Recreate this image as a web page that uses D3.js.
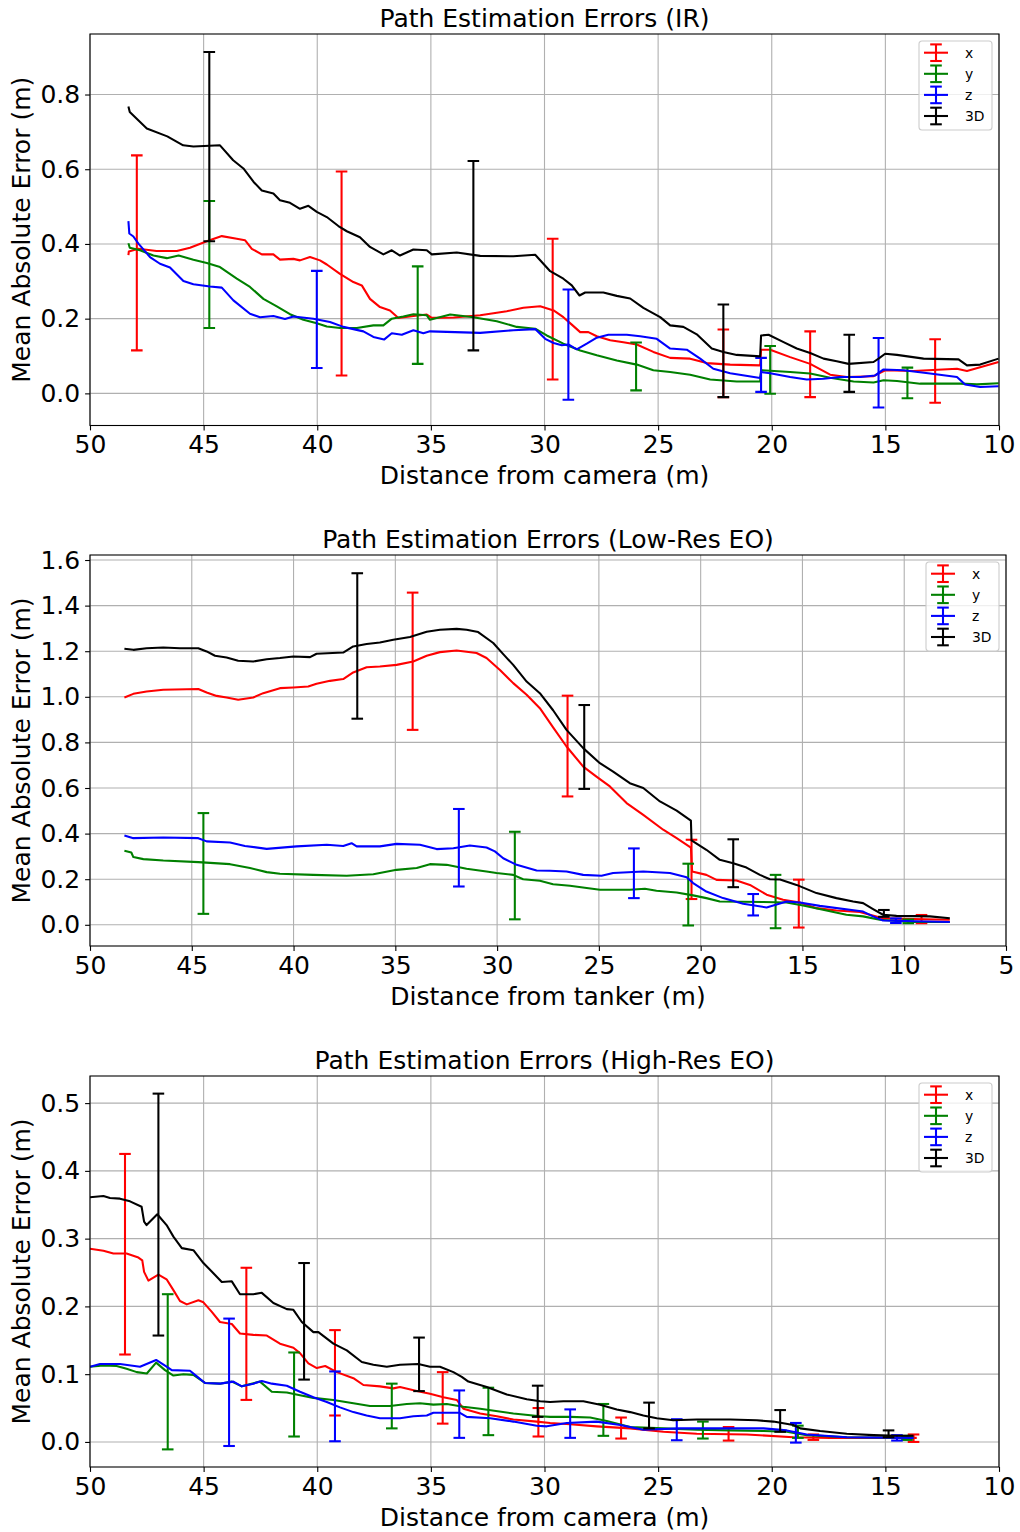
<!DOCTYPE html>
<html>
<head>
<meta charset="utf-8">
<script src="https://cdn.jsdelivr.net/npm/d3@7"></script>
<style>
  body { margin: 0; background: #fff; }
  text { font-family: "DejaVu Sans", sans-serif; }
</style>
</head>
<body>
<svg id="chart" width="1020" height="1532"></svg>
<script>
// ---- data: [distance (m), mean abs error (m)] ----
const seriesNames = ['x', 'y', 'z', '3D'];
const seriesColors = ['#ff0000', '#008000', '#0000ff', '#000000'];

// IR
const irX = [[48.31,0.370],[48.29,0.380],[47.87,0.387],[47.07,0.381],[46.18,0.381],[45.6,0.390],[44.86,0.407],[44.2,0.421],[43.54,0.414],[43.18,0.410],[42.88,0.387],[42.44,0.372],[41.93,0.372],[41.64,0.358],[41.05,0.360],[40.76,0.356],[40.32,0.365],[39.88,0.356],[39.58,0.345],[39.0,0.320],[38.41,0.298],[38.04,0.289],[37.68,0.253],[37.24,0.231],[36.8,0.222],[36.43,0.202],[35.77,0.207],[35.18,0.211],[34.96,0.202],[34.0,0.203],[32.83,0.209],[31.66,0.220],[30.93,0.229],[30.19,0.233],[29.6,0.222],[29.17,0.204],[28.8,0.184],[28.43,0.164],[28.07,0.164],[27.7,0.153],[27.11,0.142],[26.53,0.137],[25.94,0.131],[25.21,0.111],[24.47,0.095],[23.59,0.093],[22.86,0.081],[21.83,0.077],[20.51,0.075],[20.47,0.117],[20.07,0.117],[19.19,0.097],[18.31,0.079],[17.43,0.050],[16.7,0.044],[15.52,0.046],[15.01,0.062],[13.76,0.060],[11.85,0.066],[11.41,0.060],[10.02,0.084]];
const irY = [[48.31,0.402],[48.25,0.390],[47.8,0.383],[47.21,0.369],[46.62,0.362],[46.1,0.369],[45.45,0.358],[44.86,0.349],[44.28,0.338],[43.54,0.307],[42.96,0.285],[42.37,0.253],[41.78,0.233],[41.2,0.212],[40.61,0.197],[40.02,0.188],[39.58,0.179],[39.0,0.175],[38.26,0.175],[37.53,0.182],[37.09,0.182],[36.72,0.200],[36.21,0.206],[35.77,0.212],[35.18,0.209],[35.04,0.197],[34.15,0.211],[33.13,0.204],[32.1,0.193],[31.22,0.178],[30.41,0.173],[29.9,0.155],[29.17,0.133],[28.43,0.115],[27.7,0.102],[26.82,0.088],[25.94,0.077],[25.21,0.062],[24.47,0.057],[23.59,0.050],[22.71,0.037],[21.54,0.032],[20.51,0.032],[20.47,0.062],[19.19,0.057],[18.31,0.053],[17.43,0.042],[16.4,0.032],[15.52,0.029],[15.08,0.035],[14.49,0.033],[13.47,0.026],[11.7,0.026],[10.97,0.024],[10.02,0.027]];
const irZ = [[48.31,0.461],[48.27,0.428],[48.09,0.420],[47.87,0.401],[47.36,0.365],[46.92,0.347],[46.48,0.337],[45.89,0.301],[45.45,0.292],[44.72,0.286],[44.2,0.283],[43.69,0.249],[42.96,0.213],[42.52,0.204],[41.93,0.207],[41.42,0.199],[41.05,0.206],[40.17,0.200],[39.44,0.191],[38.85,0.178],[37.97,0.166],[37.53,0.151],[37.06,0.144],[36.72,0.161],[36.28,0.157],[35.77,0.169],[35.33,0.161],[35.04,0.166],[32.83,0.162],[31.37,0.169],[30.41,0.172],[29.97,0.146],[29.6,0.135],[29.24,0.129],[28.95,0.131],[28.58,0.118],[28.14,0.133],[27.7,0.149],[27.19,0.157],[26.38,0.157],[25.79,0.153],[25.06,0.146],[24.47,0.120],[23.74,0.117],[23.15,0.093],[22.57,0.066],[21.83,0.054],[20.51,0.041],[20.47,0.057],[20.07,0.054],[19.19,0.044],[18.46,0.037],[17.72,0.039],[16.99,0.044],[16.1,0.044],[15.45,0.048],[15.08,0.064],[14.2,0.062],[13.03,0.053],[11.85,0.044],[11.49,0.024],[10.83,0.017],[10.02,0.019]];
const ir3D = [[48.31,0.768],[48.25,0.753],[47.5,0.709],[46.6,0.688],[45.9,0.664],[45.45,0.661],[44.28,0.664],[43.7,0.624],[43.25,0.602],[42.8,0.566],[42.44,0.543],[41.93,0.535],[41.64,0.517],[41.2,0.510],[40.76,0.494],[40.39,0.502],[40.02,0.486],[39.58,0.472],[39.07,0.448],[38.7,0.434],[38.12,0.418],[37.68,0.392],[37.09,0.372],[36.72,0.383],[36.36,0.369],[35.77,0.385],[35.18,0.383],[34.96,0.372],[33.86,0.377],[32.83,0.368],[31.37,0.367],[30.41,0.371],[30.05,0.347],[29.75,0.327],[29.17,0.307],[28.8,0.289],[28.46,0.262],[28.21,0.270],[27.41,0.270],[26.82,0.261],[26.23,0.254],[25.65,0.229],[24.91,0.204],[24.47,0.182],[23.89,0.178],[23.3,0.158],[22.64,0.120],[22.13,0.111],[21.54,0.103],[20.51,0.099],[20.47,0.155],[20.14,0.157],[19.48,0.137],[18.9,0.120],[18.31,0.108],[17.72,0.093],[17.14,0.086],[16.62,0.079],[15.52,0.084],[15.3,0.093],[15.01,0.106],[14.49,0.103],[13.32,0.093],[11.78,0.091],[11.41,0.075],[10.83,0.077],[10.02,0.093]];

// error bars: [distance, mean, half-width]
const irXErr = [[47.94,0.376,0.261],[38.93,0.321,0.273],[29.64,0.2255,0.1885],[22.13,0.0805,0.0905],[18.31,0.078,0.088],[12.81,0.06,0.085]];
const irYErr = [[44.75,0.345,0.17],[35.58,0.2095,0.1305],[25.97,0.072,0.064],[20.07,0.063,0.064],[14.03,0.028,0.041]];
const irZErr = [[40.02,0.198,0.13],[28.95,0.1305,0.1475],[20.47,0.0495,0.0455],[15.3,0.055,0.093]];
const ir3DErr = [[44.75,0.6605,0.2535],[33.13,0.3685,0.2535],[22.13,0.114,0.124],[16.59,0.0805,0.0765]];

// Low-Res EO
const loX = [[48.31,0.997],[47.87,1.013],[47.22,1.023],[46.4,1.031],[44.68,1.034],[44.27,1.019],[43.78,1.004],[43.29,0.997],[42.72,0.987],[41.98,0.997],[41.49,1.016],[40.67,1.038],[40.01,1.041],[39.28,1.045],[38.87,1.057],[38.21,1.070],[37.56,1.078],[37.07,1.107],[36.41,1.130],[35.76,1.133],[34.94,1.140],[34.12,1.155],[33.46,1.180],[32.81,1.196],[31.99,1.203],[31.01,1.192],[30.52,1.170],[29.86,1.118],[29.21,1.060],[28.55,1.009],[27.9,0.950],[27.25,0.866],[26.59,0.782],[25.77,0.694],[25.12,0.650],[24.46,0.607],[23.64,0.534],[22.82,0.482],[21.84,0.417],[21.18,0.380],[20.48,0.339],[20.42,0.234],[19.72,0.219],[19.22,0.197],[18.24,0.194],[17.58,0.175],[16.76,0.132],[15.95,0.110],[15.13,0.098],[14.31,0.073],[13.33,0.063],[12.18,0.056],[11.69,0.044],[11.04,0.029],[9.56,0.025],[7.76,0.022]];
const loY = [[48.31,0.325],[47.97,0.317],[47.87,0.297],[47.38,0.288],[46.4,0.282],[44.68,0.275],[43.12,0.266],[42.14,0.249],[41.32,0.231],[40.67,0.224],[39.03,0.219],[37.39,0.215],[36.08,0.222],[34.94,0.241],[33.95,0.249],[33.3,0.266],[32.48,0.263],[31.5,0.246],[30.52,0.234],[30.03,0.227],[29.21,0.219],[28.72,0.200],[27.9,0.193],[27.25,0.178],[26.42,0.171],[25.6,0.161],[24.95,0.154],[23.48,0.154],[22.74,0.158],[22.17,0.149],[21.18,0.142],[20.37,0.129],[19.72,0.117],[19.06,0.102],[16.93,0.100],[15.78,0.098],[14.97,0.085],[13.99,0.066],[12.84,0.044],[12.02,0.037],[11.2,0.022],[9.56,0.012],[7.76,0.012]];
const loZ = [[48.31,0.392],[47.87,0.380],[46.4,0.383],[44.68,0.380],[44.27,0.366],[43.12,0.361],[42.39,0.346],[41.32,0.333],[39.85,0.344],[38.37,0.351],[37.56,0.346],[37.15,0.358],[36.9,0.344],[35.76,0.344],[34.94,0.355],[33.79,0.351],[32.97,0.332],[32.15,0.336],[31.34,0.348],[30.52,0.339],[30.11,0.322],[29.7,0.292],[29.04,0.263],[28.06,0.238],[27.41,0.237],[26.59,0.234],[25.77,0.219],[24.87,0.215],[24.3,0.227],[22.82,0.234],[21.51,0.227],[20.69,0.209],[20.37,0.183],[19.72,0.146],[18.9,0.117],[17.91,0.092],[16.76,0.076],[15.78,0.102],[15.13,0.098],[14.15,0.083],[12.02,0.058],[11.53,0.037],[11.04,0.019],[7.76,0.012]];
const lo3D = [[48.31,1.211],[47.87,1.206],[47.22,1.213],[46.4,1.216],[45.58,1.213],[44.68,1.213],[44.27,1.199],[43.86,1.180],[43.29,1.172],[42.72,1.158],[41.98,1.155],[41.32,1.165],[40.67,1.170],[40.01,1.177],[39.19,1.174],[38.87,1.189],[37.56,1.194],[37.07,1.221],[36.41,1.232],[35.76,1.238],[35.1,1.250],[34.28,1.262],[33.46,1.285],[32.81,1.294],[31.99,1.298],[31.5,1.294],[30.93,1.284],[30.19,1.236],[29.7,1.187],[29.21,1.140],[28.55,1.067],[27.9,1.016],[27.25,0.941],[26.59,0.855],[25.77,0.775],[24.95,0.709],[24.3,0.672],[23.48,0.621],[22.82,0.600],[22.0,0.541],[21.18,0.501],[20.48,0.457],[20.45,0.370],[19.72,0.329],[19.06,0.285],[18.4,0.270],[17.75,0.251],[17.09,0.219],[16.6,0.200],[16.1,0.199],[15.29,0.175],[14.31,0.139],[13.33,0.117],[12.51,0.102],[12.02,0.095],[11.53,0.069],[11.04,0.044],[10.38,0.039],[8.74,0.037],[7.76,0.029]];

const loXErr = [[34.15,1.156,0.301],[26.54,0.784,0.221],[20.45,0.243,0.13],[15.18,0.093,0.105],[9.15,0.025,0.018]];
const loYErr = [[44.43,0.269,0.221],[29.13,0.216,0.192],[20.61,0.1325,0.1355],[16.32,0.102,0.117],[9.8,0.015,0.008]];
const loZErr = [[31.88,0.338,0.17],[23.28,0.226,0.109],[17.42,0.088,0.047],[10.41,0.018,0.01]];
const lo3DErr = [[36.87,1.223,0.319],[25.72,0.78,0.184],[18.4,0.27,0.105],[11.0,0.05,0.015]];

// High-Res EO
const hiX = [[50,0.285],[49.41,0.282],[48.97,0.278],[48.39,0.278],[47.87,0.272],[47.7,0.268],[47.62,0.251],[47.43,0.238],[46.99,0.247],[46.63,0.240],[46.33,0.224],[46.04,0.208],[45.74,0.203],[45.23,0.209],[45.01,0.206],[44.64,0.192],[44.28,0.177],[43.76,0.174],[43.4,0.160],[42.81,0.158],[42.22,0.157],[41.64,0.145],[41.05,0.139],[40.76,0.131],[40.39,0.116],[40.02,0.109],[39.65,0.112],[39.14,0.103],[38.41,0.094],[37.97,0.084],[37.24,0.082],[36.65,0.079],[36.36,0.081],[35.62,0.075],[35.04,0.071],[34.45,0.066],[33.86,0.062],[33.57,0.049],[32.83,0.042],[32.1,0.038],[31.37,0.033],[30.34,0.030],[29.75,0.028],[28.87,0.026],[27.7,0.023],[26.23,0.020],[24.77,0.015],[23.3,0.012],[21.1,0.011],[19.05,0.007],[17.43,0.006],[13.62,0.006]];
const hiY = [[50,0.111],[49.41,0.113],[48.83,0.112],[48.39,0.108],[47.94,0.103],[47.5,0.101],[47.09,0.117],[46.7,0.106],[46.33,0.098],[45.89,0.100],[45.45,0.099],[44.94,0.087],[44.28,0.086],[43.76,0.089],[43.32,0.082],[42.52,0.089],[42.0,0.074],[41.34,0.073],[40.76,0.069],[40.17,0.065],[39.29,0.062],[38.41,0.057],[37.68,0.053],[36.8,0.053],[36.06,0.056],[35.48,0.057],[34.89,0.055],[34.3,0.056],[33.57,0.052],[32.83,0.049],[31.37,0.042],[30.19,0.038],[29.75,0.037],[28.87,0.037],[27.99,0.036],[27.26,0.031],[26.23,0.022],[24.77,0.020],[23.3,0.018],[21.83,0.017],[20.36,0.016],[19.34,0.015],[18.46,0.010],[16.7,0.007],[13.76,0.006]];
const hiZ = [[50,0.111],[49.56,0.115],[48.68,0.115],[47.8,0.111],[47.09,0.121],[46.63,0.111],[46.4,0.106],[45.6,0.105],[45.38,0.099],[44.94,0.087],[44.28,0.086],[43.69,0.089],[43.32,0.082],[42.81,0.086],[42.44,0.090],[42.0,0.086],[41.34,0.083],[40.76,0.074],[40.17,0.066],[39.58,0.059],[39.0,0.051],[38.41,0.044],[37.83,0.039],[37.24,0.035],[36.36,0.035],[35.77,0.038],[35.18,0.039],[34.89,0.043],[33.72,0.043],[33.42,0.037],[32.39,0.035],[31.37,0.030],[30.34,0.024],[29.9,0.023],[29.02,0.028],[27.7,0.030],[26.67,0.025],[25.65,0.018],[24.04,0.020],[21.83,0.020],[20.36,0.020],[19.34,0.017],[18.46,0.011],[16.7,0.007],[13.76,0.006]];
const hi3D = [[50,0.361],[49.41,0.363],[49.12,0.360],[48.68,0.359],[48.24,0.355],[47.73,0.347],[47.62,0.325],[47.51,0.320],[47.04,0.336],[46.63,0.320],[46.33,0.303],[45.96,0.286],[45.45,0.283],[45.01,0.264],[44.57,0.249],[44.2,0.236],[43.76,0.237],[43.4,0.218],[42.81,0.218],[42.44,0.220],[41.93,0.205],[41.34,0.196],[41.05,0.195],[40.68,0.177],[40.17,0.162],[39.95,0.162],[39.29,0.145],[38.7,0.135],[38.04,0.118],[37.53,0.114],[36.94,0.111],[36.36,0.114],[35.55,0.115],[35.04,0.111],[34.6,0.111],[34.01,0.103],[33.64,0.096],[33.35,0.089],[32.54,0.081],[31.66,0.070],[30.78,0.063],[30.19,0.060],[29.75,0.059],[29.17,0.060],[28.29,0.060],[27.55,0.055],[26.82,0.048],[26.23,0.044],[25.65,0.039],[25.06,0.035],[24.33,0.032],[23.3,0.033],[21.83,0.033],[20.66,0.032],[19.93,0.030],[19.05,0.025],[18.75,0.020],[17.87,0.016],[16.7,0.012],[15.52,0.010],[14.49,0.009],[13.76,0.009]];

const hiXErr = [[48.46,0.277,0.148],[43.12,0.1595,0.0975],[39.22,0.102,0.063],[34.48,0.065,0.038],[30.27,0.029,0.021],[26.63,0.0205,0.0155],[21.9,0.012,0.01],[18.17,0.007,0.004],[13.76,0.0055,0.0055]];
const hiYErr = [[46.58,0.1035,0.1145],[41.02,0.07,0.062],[36.72,0.053,0.033],[32.47,0.045,0.035],[27.41,0.0325,0.0235],[23.03,0.0175,0.0125],[18.85,0.015,0.009],[14.05,0.006,0.003]];
const hiZErr = [[43.88,0.088,0.094],[39.22,0.0525,0.0515],[33.75,0.041,0.035],[28.87,0.027,0.021],[24.18,0.018,0.0155],[18.94,0.0135,0.0145],[14.49,0.006,0.004]];
const hi3DErr = [[46.99,0.3355,0.1785],[40.58,0.178,0.086],[35.52,0.1145,0.0395],[30.3,0.06,0.023],[25.4,0.039,0.019],[19.63,0.031,0.016],[14.86,0.012,0.005]];

// ticks
const irXTicks = [50, 45, 40, 35, 30, 25, 20, 15, 10];
const irYTicks = [0.0, 0.2, 0.4, 0.6, 0.8];
const loXTicks = [50, 45, 40, 35, 30, 25, 20, 15, 10, 5];
const loYTicks = [0.0, 0.2, 0.4, 0.6, 0.8, 1.0, 1.2, 1.4, 1.6];
const hiXTicks = [50, 45, 40, 35, 30, 25, 20, 15, 10];
const hiYTicks = [0.0, 0.1, 0.2, 0.3, 0.4, 0.5];

const titles = ['Path Estimation Errors (IR)', 'Path Estimation Errors (Low-Res EO)', 'Path Estimation Errors (High-Res EO)'];
const xLabels = ['Distance from camera (m)', 'Distance from tanker (m)', 'Distance from camera (m)'];
const yLabel = 'Mean Absolute Error (m)';

// ---- layout ----
const fontSize = 25;
const legendFont = 13.9;
const lineW = 2.08;
const cap = 5.8;

const panels = [
  {box: {left: 90, right: 999, top: 34, bottom: 425.5}, xDom: [50, 10], yDom: [-0.086, 0.962],
   xTicks: irXTicks, yTicks: irYTicks, lines: [irX, irY, irZ, ir3D], errs: [irXErr, irYErr, irZErr, ir3DErr]},
  {box: {left: 90, right: 1006, top: 555, bottom: 946}, xDom: [50, 5], yDom: [-0.093, 1.622],
   xTicks: loXTicks, yTicks: loYTicks, lines: [loX, loY, loZ, lo3D], errs: [loXErr, loYErr, loZErr, lo3DErr]},
  {box: {left: 90, right: 999, top: 1076, bottom: 1467}, xDom: [50, 10], yDom: [-0.037, 0.540],
   xTicks: hiXTicks, yTicks: hiYTicks, lines: [hiX, hiY, hiZ, hi3D], errs: [hiXErr, hiYErr, hiZErr, hi3DErr]},
];

const svg = d3.select('#chart');
svg.append('rect').attr('width', 1020).attr('height', 1532).attr('fill', '#fff');

const drawPanel = (p, i) => {
  const b = p.box;
  const w = b.right - b.left;
  const h = b.bottom - b.top;

  const x = d3.scaleLinear().domain(p.xDom).range([0, w]);
  const y = d3.scaleLinear().domain(p.yDom).range([h, 0]);

  const g = svg.append('g')
      .attr('transform', `translate(${ b.left },${ b.top })`);

  g.append('clipPath')
      .attr('id', `clip${ i }`)
    .append('rect')
      .attr('width', w)
      .attr('height', h);

  // grid
  g.append('g').selectAll('line')
      .data(p.xTicks)
    .enter().append('line')
      .attr('x1', (d) => x(d)).attr('x2', (d) => x(d))
      .attr('y1', 0).attr('y2', h)
      .attr('stroke', '#b0b0b0').attr('stroke-width', 1.1);

  g.append('g').selectAll('line')
      .data(p.yTicks)
    .enter().append('line')
      .attr('x1', 0).attr('x2', w)
      .attr('y1', (d) => y(d)).attr('y2', (d) => y(d))
      .attr('stroke', '#b0b0b0').attr('stroke-width', 1.1);

  const plot = g.append('g').attr('clip-path', `url(#clip${ i })`);

  const line = d3.line()
      .x((d) => x(d[0]))
      .y((d) => y(d[1]));

  p.lines.forEach((data, k) => {
    const color = seriesColors[k];

    plot.append('path')
        .datum(data)
        .attr('d', line)
        .attr('fill', 'none')
        .attr('stroke', color)
        .attr('stroke-width', lineW)
        .attr('stroke-linejoin', 'round');

    // error bars
    const eb = plot.append('g').selectAll('g')
        .data(p.errs[k])
      .enter().append('g')
        .attr('stroke', color)
        .attr('stroke-width', lineW);

    eb.append('line')
        .attr('x1', (d) => x(d[0])).attr('x2', (d) => x(d[0]))
        .attr('y1', (d) => y(d[1] - d[2])).attr('y2', (d) => y(d[1] + d[2]));
    eb.append('line')
        .attr('x1', (d) => x(d[0]) - cap).attr('x2', (d) => x(d[0]) + cap)
        .attr('y1', (d) => y(d[1] + d[2])).attr('y2', (d) => y(d[1] + d[2]));
    eb.append('line')
        .attr('x1', (d) => x(d[0]) - cap).attr('x2', (d) => x(d[0]) + cap)
        .attr('y1', (d) => y(d[1] - d[2])).attr('y2', (d) => y(d[1] - d[2]));
  });

  // axes
  const xAxis = d3.axisBottom(x)
      .tickValues(p.xTicks)
      .tickFormat(d3.format('d'))
      .tickSize(4.9)
      .tickPadding(4.9);

  const yAxis = d3.axisLeft(y)
      .tickValues(p.yTicks)
      .tickFormat(d3.format('.1f'))
      .tickSize(4.9)
      .tickPadding(4.9);

  const gx = g.append('g')
      .attr('transform', `translate(0,${ h })`)
      .call(xAxis);
  const gy = g.append('g').call(yAxis);

  [gx, gy].forEach((a) => {
    a.select('.domain').remove();
    a.selectAll('line').attr('stroke', '#000').attr('stroke-width', 1.1);
    a.selectAll('text')
        .attr('fill', '#000')
        .style('font-size', `${ fontSize }px`)
        .style('font-family', '"DejaVu Sans", sans-serif');
  });

  // frame
  g.append('rect')
      .attr('width', w)
      .attr('height', h)
      .attr('fill', 'none')
      .attr('stroke', '#000')
      .attr('stroke-width', 1.1);

  // title and labels
  g.append('text')
      .attr('x', w / 2)
      .attr('y', -7)
      .attr('text-anchor', 'middle')
      .style('font-size', `${ fontSize }px`)
      .text(titles[i]);

  g.append('text')
      .attr('x', w / 2)
      .attr('y', h + 58.5)
      .attr('text-anchor', 'middle')
      .style('font-size', `${ fontSize }px`)
      .text(xLabels[i]);

  g.append('text')
      .attr('transform', `translate(${ 30 - b.left },${ h / 2 }) rotate(-90)`)
      .attr('text-anchor', 'middle')
      .style('font-size', `${ fontSize }px`)
      .text(yLabel);

  // legend
  const lw = 73;
  const lh = 89;
  const lg = g.append('g')
      .attr('transform', `translate(${ w - 7 - lw },7)`);

  lg.append('rect')
      .attr('width', lw)
      .attr('height', lh)
      .attr('rx', 3)
      .attr('fill', '#fff')
      .attr('fill-opacity', 0.8)
      .attr('stroke', '#cccccc')
      .attr('stroke-width', 1.1);

  const item = lg.selectAll('.item')
      .data(seriesNames)
    .enter().append('g')
      .attr('class', 'item')
      .attr('transform', (d, k) => `translate(0,${ 11.7 + k * 21.1 })`);

  item.append('line')
      .attr('x1', 5).attr('x2', 29).attr('y1', 0).attr('y2', 0)
      .attr('stroke', (d, k) => seriesColors[k]).attr('stroke-width', lineW);
  item.append('line')
      .attr('x1', 17).attr('x2', 17).attr('y1', -8.3).attr('y2', 8.3)
      .attr('stroke', (d, k) => seriesColors[k]).attr('stroke-width', lineW);
  item.append('line')
      .attr('x1', 17 - cap).attr('x2', 17 + cap).attr('y1', -8.3).attr('y2', -8.3)
      .attr('stroke', (d, k) => seriesColors[k]).attr('stroke-width', lineW);
  item.append('line')
      .attr('x1', 17 - cap).attr('x2', 17 + cap).attr('y1', 8.3).attr('y2', 8.3)
      .attr('stroke', (d, k) => seriesColors[k]).attr('stroke-width', lineW);
  item.append('text')
      .attr('x', 46)
      .attr('dy', '0.36em')
      .style('font-size', `${ legendFont }px`)
      .text((d) => d);
};

panels.forEach(drawPanel);
</script>
</body>
</html>
